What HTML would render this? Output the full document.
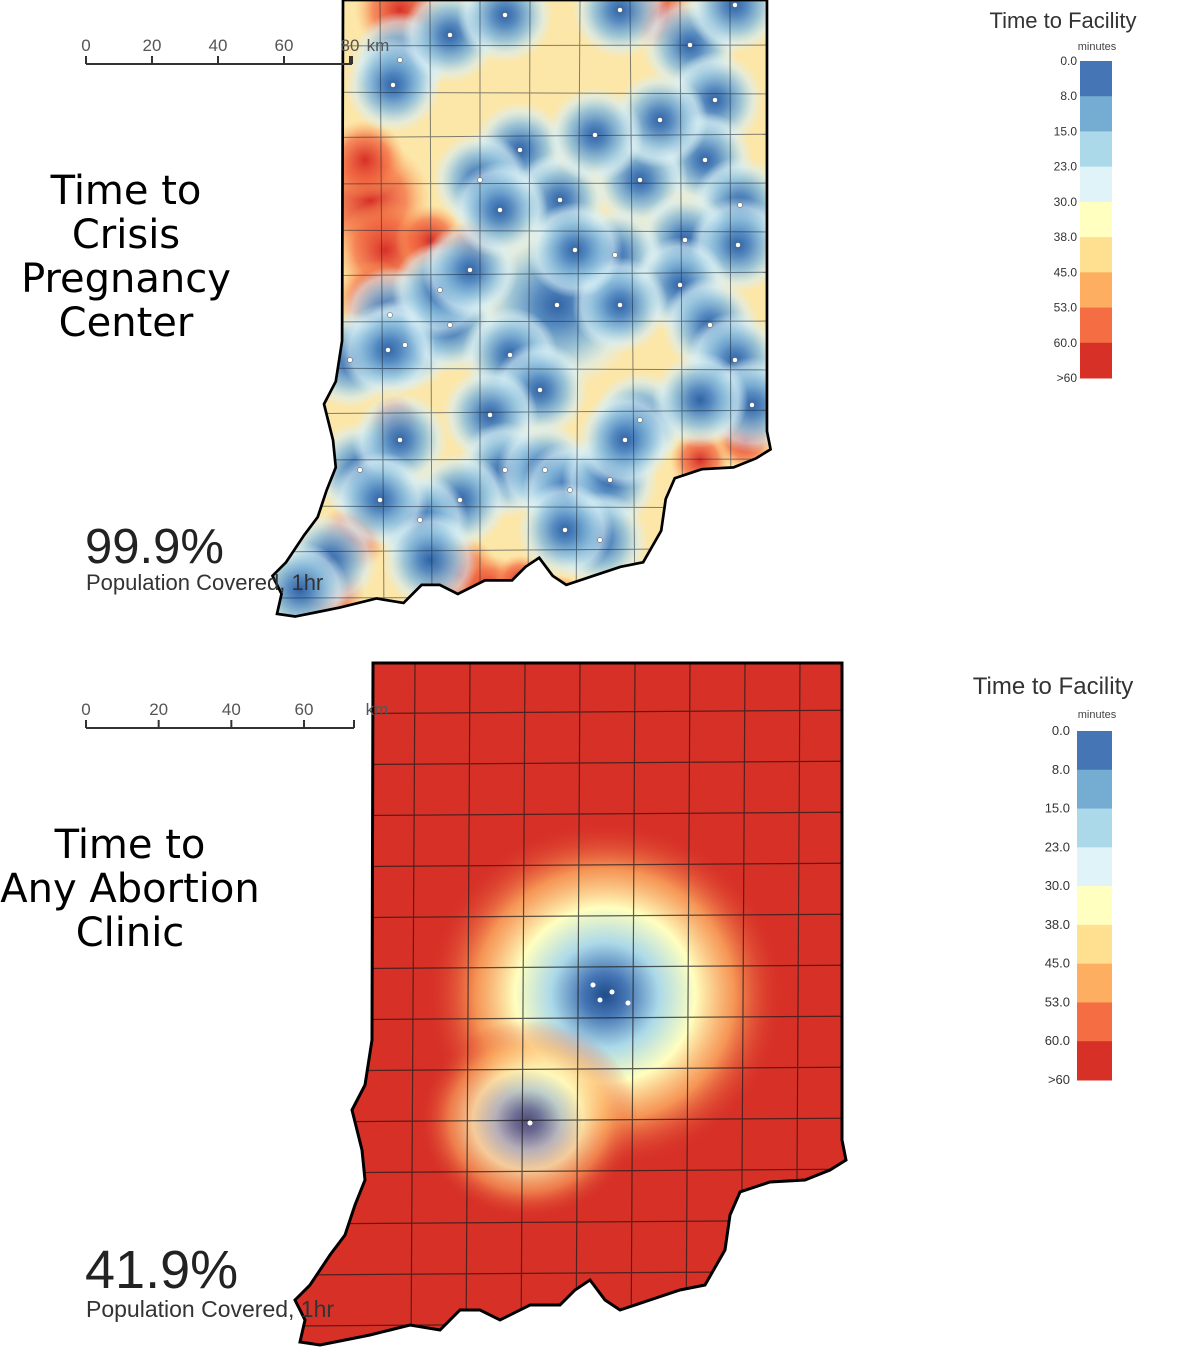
<!DOCTYPE html>
<html><head><meta charset="utf-8"><style>
html,body{margin:0;padding:0;background:#fff;width:1190px;height:1353px;overflow:hidden}
svg{display:block}
</style></head><body>
<svg id="svg" width="1190" height="1353" viewBox="0 0 1190 1353" xmlns="http://www.w3.org/2000/svg">
<defs>
<path id="inOutline" d="M373,663 L842,663 L842,1140 L846,1160 L830,1170 L805,1180 L770,1182 L740,1192 L730,1215 L725,1250 L705,1285 L680,1290 L650,1300 L620,1310 L605,1300 L590,1280 L575,1290 L560,1305 L530,1305 L500,1320 L480,1310 L460,1310 L440,1330 L410,1325 L390,1330 L370,1335 L345,1340 L320,1345 L300,1342 L305,1320 L295,1300 L310,1285 L330,1255 L345,1235 L355,1205 L365,1180 L362,1150 L352,1110 L365,1085 L372,1040 Z"/>
<clipPath id="clipBot"><use href="#inOutline"/></clipPath>
<clipPath id="clipTop"><use href="#inOutline" transform="translate(343,0) scale(0.904) translate(-373,-663)"/></clipPath>
<radialGradient id="gBlue">
<stop offset="0" stop-color="#2f62a4"/>
<stop offset="0.25" stop-color="#4f86c0" stop-opacity="0.95"/>
<stop offset="0.55" stop-color="#8fc0dd" stop-opacity="0.85"/>
<stop offset="0.8" stop-color="#d6eef6" stop-opacity="0.6"/>
<stop offset="1" stop-color="#e0f3f8" stop-opacity="0"/>
</radialGradient>
<radialGradient id="gRed">
<stop offset="0" stop-color="#d73027"/>
<stop offset="0.6" stop-color="#f46d43" stop-opacity="0.75"/>
<stop offset="1" stop-color="#fdae61" stop-opacity="0"/>
</radialGradient>
<radialGradient id="gIndy">
<stop offset="0" stop-color="#1f4c8a"/>
<stop offset="0.12" stop-color="#4575b4"/>
<stop offset="0.3" stop-color="#abd9e9"/>
<stop offset="0.5" stop-color="#ffffbf"/>
<stop offset="0.72" stop-color="#fdae61" stop-opacity="0.8"/>
<stop offset="1" stop-color="#d73027" stop-opacity="0"/>
</radialGradient>
</defs>

<!-- TOP MAP -->
<g id="topMap" clip-path="url(#clipTop)">
<rect x="240" y="-10" width="560" height="650" fill="#fce6a8"/>
<g id="topRed"></g>
<g id="topBlue"></g>
<g id="topGrid" stroke="#1a2a3a" stroke-width="1" opacity="0.55"></g>
</g>
<use href="#inOutline" transform="translate(343,0) scale(0.904) translate(-373,-663)" fill="none" stroke="#000" stroke-width="3"/>
<g id="topDots" fill="#fff" stroke="#555" stroke-width="0.5"></g>

<!-- BOTTOM MAP -->
<g clip-path="url(#clipBot)">
<rect x="280" y="650" width="600" height="710" fill="#d73027"/>
<g id="botGlow"></g>
<g id="botGrid" stroke="#1a1a1a" stroke-width="1.2" opacity="0.7"></g>
</g>
<use href="#inOutline" fill="none" stroke="#000" stroke-width="3"/>
<g id="botDots" fill="#fff"></g>

<!-- Titles -->
<text font-family="DejaVu Sans, sans-serif" font-size="40" text-anchor="middle" fill="#000"><tspan x="126" y="204">Time to</tspan><tspan x="126" y="248">Crisis</tspan><tspan x="126" y="292">Pregnancy</tspan><tspan x="126" y="336">Center</tspan></text>
<text font-family="DejaVu Sans, sans-serif" font-size="40" text-anchor="middle" fill="#000"><tspan x="130" y="858">Time to</tspan><tspan x="130" y="902">Any Abortion</tspan><tspan x="130" y="946">Clinic</tspan></text>

<text x="85" y="563" font-family="Liberation Sans, sans-serif" font-size="49" fill="#222">99.9%</text>
<text x="86" y="590" font-family="Liberation Sans, sans-serif" font-size="22" fill="#333">Population Covered, 1hr</text>
<text x="85" y="1288" font-family="Liberation Sans, sans-serif" font-size="54" fill="#222">41.9%</text>
<text x="86" y="1317" font-family="Liberation Sans, sans-serif" font-size="23" fill="#333">Population Covered, 1hr</text>

<g id="scaleTop"></g>
<g id="scaleBot"></g>
<g id="legTop"></g>
<g id="legBot"></g>
</svg>
<script>
const NS='http://www.w3.org/2000/svg';
const legendColors=['#4575b4','#74add1','#abd9e9','#e0f3f8','#ffffbf','#fee090','#fdae61','#f46d43','#d73027'];
const legendLabels=['0.0','8.0','15.0','23.0','30.0','38.0','45.0','53.0','60.0','>60'];
const topFacX=[557,520,480,400,393,450,690,735,715,705,640,740,685,738,615,560,680,620,710,390,405,450,510,540,490,640,735,752,360,400,505,545,570,610,600,565,460,420,505,620,660,595,440,350,575,470,388,625,500,380,430,700,330,300];
const topFacY=[305,150,180,60,85,35,45,5,100,160,180,205,240,245,255,200,285,305,325,315,345,325,355,390,415,420,360,405,470,440,470,470,490,480,540,530,500,520,15,10,120,135,290,360,250,270,350,440,210,500,560,400,560,590];
const topRedX=[370,385,430,375,460,490,700,745,350,560,400,660,395,470,365,330,520,440];
const topRedY=[200,250,240,300,575,590,460,440,540,600,10,15,420,245,160,590,580,600];
const topRedR=[60,50,35,40,40,35,30,30,35,25,45,35,25,25,40,35,25,30];
const botFacX=[600,612,628,593,530];
const botFacY=[1000,992,1003,985,1123];
const scaleTopTicks=['0','20','40','60','80'];
const scaleBotTicks=['0','20','40','60'];

function el(tag,attrs,parent){const e=document.createElementNS(NS,tag);for(const k in attrs)e.setAttribute(k,attrs[k]);parent.appendChild(e);return e;}

const tr=document.getElementById('topRed');
for(let i=0;i<topRedX.length;i++){
  const c=el('circle',{cx:topRedX[i],cy:topRedY[i],r:topRedR[i],fill:'url(#gRed)'},tr);
  
  
}
const tb=document.getElementById('topBlue');
const td=document.getElementById('topDots');
for(let i=0;i<topFacX.length;i++){
  const c=el('circle',{cx:topFacX[i],cy:topFacY[i],r:(i===0?85:48),fill:'url(#gBlue)'},tb);
  
  
  if(i<50){
    const d=el('circle',{cx:topFacX[i],cy:topFacY[i],r:2.5},td);
    
    
  }
}
const bg=document.getElementById('botGlow');
const g1=el('ellipse',{cx:605,cy:995,rx:180,ry:175,fill:'url(#gIndy)'},bg);


const g2=el('ellipse',{cx:528,cy:1120,rx:110,ry:100,fill:'url(#gIndy)',opacity:0.75},bg);


const bd=document.getElementById('botDots');
for(let i=0;i<botFacX.length;i++){
  const d=el('circle',{cx:botFacX[i],cy:botFacY[i],r:2.5},bd);
  
  
}
function grid(gid,x0,x1,y0,y1,dx,dy){
  const g=document.getElementById(gid);
  for(let x=x0;x<=x1;x+=dx){const l=el('line',{x1:x,y1:y0,x2:x+((x*7)%11-5),y2:y1},g);}
  for(let y=y0;y<=y1;y+=dy){const l=el('line',{x1:x0-120,y1:y,x2:x1+40,y2:y+((y*3)%9-4)},g);}
}
grid('topGrid',380,760,0,620,50,46);
grid('botGrid',415,835,663,1350,55,51);

function scale(gid,x0,x1,y,ticks,barEnd,unitX){
  const g=document.getElementById(gid);
  el('line',{x1:x0,y1:y,x2:barEnd,y2:y,stroke:'#333','stroke-width':2},g);
  const step=(x1-x0)/(ticks.length-1);
  ticks.forEach((t,i)=>{const x=x0+i*step;
    el('line',{x1:x,y1:y,x2:x,y2:y-8,stroke:'#333','stroke-width':2},g);
    const tx=el('text',{x:x,y:y-13,'text-anchor':'middle','font-family':'Liberation Sans Narrow, Liberation Sans, sans-serif','font-size':17,fill:'#555'},g);tx.textContent=t;});
  el('line',{x1:barEnd,y1:y,x2:barEnd,y2:y-8,stroke:'#333','stroke-width':2},g);
  const tx=el('text',{x:unitX,y:y-13,'text-anchor':'middle','font-family':'Liberation Sans Narrow, Liberation Sans, sans-serif','font-size':17,fill:'#555'},g);tx.textContent='km';
}
scale('scaleTop',86,350,64,scaleTopTicks,352,378);
scale('scaleBot',86,304,728,scaleBotTicks,354,377);

function legend(gid,tx,ty,tsize,mx,my,bx,bw,by0,by1,lx,lsize){
  const g=document.getElementById(gid);
  const t=el('text',{x:tx,y:ty,'text-anchor':'middle','font-family':'Liberation Sans, sans-serif','font-size':tsize,fill:'#333'},g);t.textContent='Time to Facility';
  const m=el('text',{x:mx,y:my,'text-anchor':'middle','font-family':'Liberation Sans, sans-serif','font-size':11,fill:'#444'},g);m.textContent='minutes';
  const h=(by1-by0)/legendColors.length;
  legendColors.forEach((c,i)=>{const r=el('rect',{x:bx,y:by0+i*h,width:bw,height:h+0.5,fill:c},g);
    });
  legendLabels.forEach((l,i)=>{const e=el('text',{x:lx,y:by0+i*h+4,'text-anchor':'end','font-family':'Liberation Sans, sans-serif','font-size':lsize,fill:'#333'},g);e.textContent=l;});
}
legend('legTop',1063,28,22,1097,50,1080,32,61,378,1077,12);
legend('legBot',1053,694,24,1097,718,1077,35,731,1080,1070,13);
</script>
</body></html>
